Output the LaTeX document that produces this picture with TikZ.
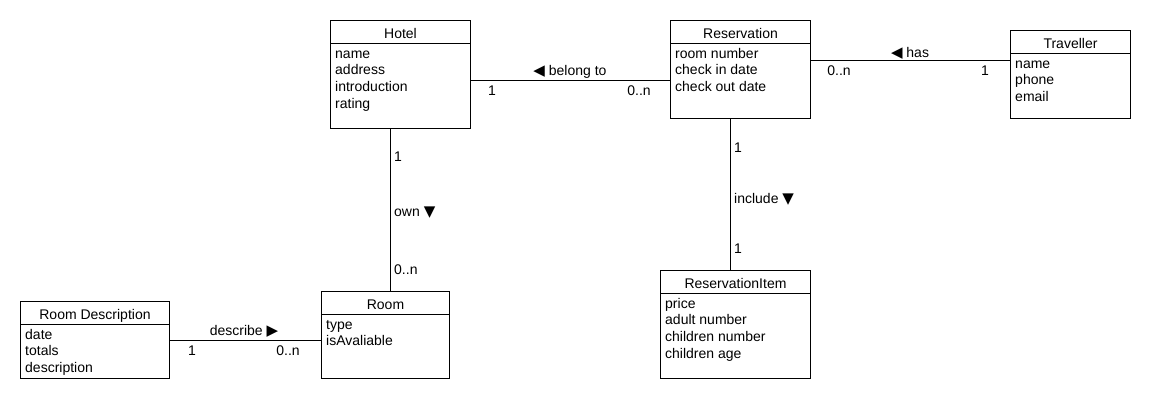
\documentclass[tikz,border=0pt]{standalone}
\usepackage{fontspec}
\setmainfont{Liberation Sans}
\newfontfamily\symfont{DejaVu Sans}
\newcommand{\tri}[1]{{\symfont\fontsize{15}{15}\selectfont #1}}
\tikzset{
  classframe/.style={draw, line width=1pt, anchor=north west, inner sep=0pt},
  lbl/.style={inner sep=0pt, anchor=base, font=\fontsize{14}{16.7}\selectfont},
  lblw/.style={lbl, anchor=base west},
  assoc/.style={line width=1pt},
}
% \classbox{name}{x}{y}{w}{h}{title}{attributes}
\newcommand{\classbox}[7]{%
  \node[classframe, minimum width=#4pt, minimum height=#5pt] (#1) at (#2,#3) {};
  \draw[line width=1pt] ([yshift=-23pt]#1.north west) -- ([yshift=-23pt]#1.north east);
  \node[lbl] (#1-title) at ([yshift=-18pt]#1.north) {#6};
  \node[lblw] (#1-attrs) at ([xshift=5pt,yshift=-38pt]#1.north west)
    {\parbox[t]{#4pt}{\fontsize{14}{16.7}\selectfont\raggedright #7}};
}
\begin{document}
\begin{tikzpicture}[x=1pt,y=-1pt]
\useasboundingbox (0,0) rectangle (1150,400);
\fill[white] (0,0) rectangle (1150,400);

\classbox{hotel}{330}{20}{140}{108}{Hotel}{name\\address\\introduction\\rating}
\classbox{res}{670}{20}{140}{98}{Reservation}{room number\\check in date\\check out date}
\classbox{trav}{1010}{30}{120}{88}{Traveller}{name\\phone\\email}
\classbox{rdesc}{20}{301}{149}{77}{Room Description}{date\\totals\\description}
\classbox{room}{321}{291}{128}{87}{Room}{type\\isAvaliable}
\classbox{ritem}{660}{270}{150}{108}{ReservationItem}{price\\adult number\\children number\\children age}

% associations
\draw[assoc] (hotel.east |- 0,80) -- (res.west |- 0,80);
\draw[assoc] (res.east |- 0,60) -- (trav.west |- 0,60);
\draw[assoc] (hotel.south -| 390,0) -- (room.north -| 390,0);
\draw[assoc] (res.south -| 730,0) -- (ritem.north -| 730,0);
\draw[assoc] (rdesc.east |- 0,340) -- (room.west |- 0,340);

% labels
\node[lbl] (l-belong) at (570,75) {\tri{◀} belong to};
\node[lbl] (l-belong-1) at (492,95) {1};
\node[lbl] (l-belong-n) at (639,95) {0..n};

\node[lbl] (l-has) at (910,57) {\tri{◀} has};
\node[lbl] (l-has-n) at (839,75) {0..n};
\node[lbl] (l-has-1) at (985,75) {1};

\node[lblw] (l-own-1) at (394,161) {1};
\node[lblw] (l-own) at (394,216) {own \tri{▼}};
\node[lblw] (l-own-n) at (394,274) {0..n};

\node[lblw] (l-inc-1) at (734,152) {1};
\node[lblw] (l-inc) at (734,203) {include \tri{▼}};
\node[lblw] (l-inc-2) at (734,253) {1};

\node[lbl] (l-desc) at (244,335) {describe \tri{▶}};
\node[lbl] (l-desc-1) at (192,355) {1};
\node[lbl] (l-desc-n) at (288,355) {0..n};
\end{tikzpicture}
\end{document}
